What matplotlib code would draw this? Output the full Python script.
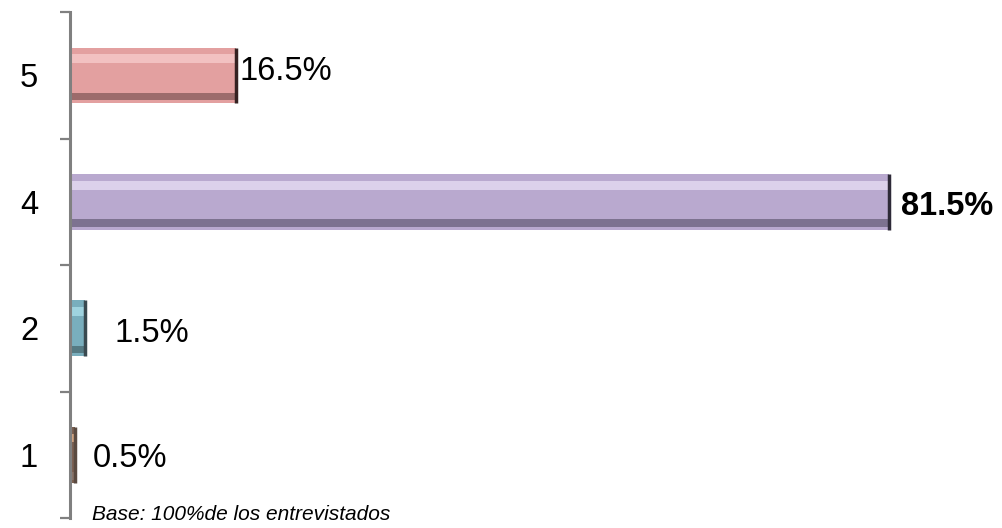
import matplotlib
matplotlib.use("Agg")
import matplotlib.pyplot as plt
import numpy as np

# datos del grafico
categorias = ["1", "2", "4", "5"]
porcentajes = [0.5, 1.5, 81.5, 16.5]
etiquetas = ["0.5%", "1.5%", "81.5%", "16.5%"]
negrita = [False, False, True, False]

# colores por barra (cara, brillo, sombra, borde derecho)
cara = ["#7C6152", "#79AEBD", "#B9A9CF", "#E3A0A0"]
brillo = ["#E9B48E", "#A9DDE8", "#E6DCF3", "#F6CACA"]
sombra = ["#8E7A70", "#4D6D75", "#6F6581", "#8A5E5E"]
borde = ["#5A4A40", "#3A4A50", "#2E2A38", "#352222"]
separacion = [1.8, 2.9, 1.2, 0.4]  # distancia texto-barra
subida = [-0.03, -0.04, -0.04, 0.03]   # ajuste vertical del texto

plt.rcParams["font.family"] = ["Liberation Sans", "DejaVu Sans"]

fig = plt.figure(figsize=(10.03, 5.28), dpi=100)
ax = fig.add_axes([0.0698, 0.019, 0.9302, 0.958])

y = np.arange(len(categorias))
alto = 0.44

ax.barh(y, porcentajes, height=alto, color=cara, left=0)
# bisel: franja clara arriba y oscura abajo
ax.barh(y + alto * 0.30, porcentajes, height=alto * 0.16, color=brillo, alpha=0.8)
ax.barh(y - alto * 0.38, porcentajes, height=alto * 0.14, color=sombra, alpha=0.8)
ax.vlines(porcentajes, y - alto / 2, y + alto / 2, colors=borde, lw=2.5)

for i in range(len(categorias)):
    ax.text(porcentajes[i] + separacion[i], y[i] + subida[i], etiquetas[i],
            va="center", ha="left", fontsize=23.5,
            fontweight="bold" if negrita[i] else "normal")

ax.set_xlim(0, 92.8)
ax.set_ylim(-0.5, len(categorias) - 0.5)

ax.set_yticks(np.arange(-0.5, len(categorias), 1.0))
ax.set_yticklabels([])
ax.set_yticks(y, minor=True)
ax.set_yticklabels(categorias, minor=True, fontsize=23.5)
ax.tick_params(axis="y", which="major", direction="out", length=7.2, width=1.6, color="#808080")
ax.tick_params(axis="y", which="minor", length=0, pad=23)
ax.set_xticks([])

for s in ["top", "right", "bottom"]:
    ax.spines[s].set_visible(False)
ax.spines["left"].set_color("#808080")
ax.spines["left"].set_linewidth(2.2)

fig.text(0.092, 0.026, "Base: 100%de los entrevistados", fontsize=15,
         style="italic", va="center", ha="left")

fig.savefig("out.png", dpi=100)
